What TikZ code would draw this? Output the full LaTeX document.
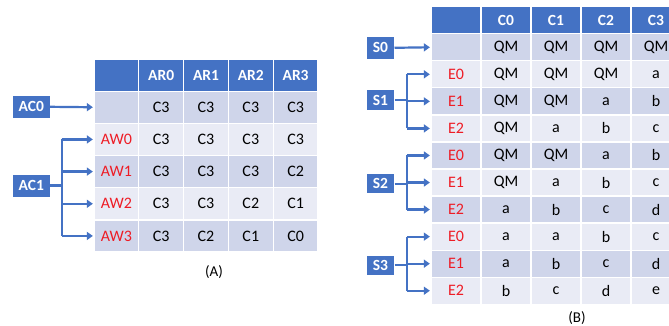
\documentclass[tikz,border=0pt]{standalone}
\usepackage{fontspec}
\setmainfont{Carlito}
\usetikzlibrary{arrows.meta}
\definecolor{hdr}{HTML}{4472C4}
\definecolor{rowdark}{HTML}{CFD5EA}
\definecolor{rowlight}{HTML}{E9EBF5}
\definecolor{lblred}{HTML}{EE1C25}
\tikzset{
  cellbase/.style={rectangle, draw=white, line width=1.3pt, inner sep=0pt, font=\fontsize{16}{18}\selectfont, text=black},
  hdrcell/.style={cellbase, fill=hdr, text=white, font=\fontsize{15.5}{18}\selectfont\bfseries},
  darkcell/.style={cellbase, fill=rowdark},
  lightcell/.style={cellbase, fill=rowlight},
  tagbox/.style={rectangle, fill=hdr, text=white, inner sep=0pt, font=\fontsize{15.5}{18}\selectfont\bfseries},
  conn/.style={draw=hdr, line width=2.2pt},
  arr/.style={conn, -{Triangle[length=6pt,width=8pt]}, shorten >=0.5pt},
  redtxt/.style={text=lblred},
  plaintxt/.style={},
  caption/.style={font=\fontsize{15}{18}\selectfont}
}
\newcommand{\pickrow}[1]{%
  \ifnum#1=0 \tikzset{rowsty/.style={hdrcell}}%
  \else\ifodd#1 \tikzset{rowsty/.style={darkcell}}%
  \else \tikzset{rowsty/.style={lightcell}}\fi\fi}
\newcommand{\pickcol}[1]{%
  \ifnum#1=0 \tikzset{colsty/.style={redtxt}}%
  \else \tikzset{colsty/.style={plaintxt}}\fi}
\begin{document}
\begin{tikzpicture}[x=1pt,y=-1pt]
\clip (0,0) rectangle (669,326);
\fill[white] (0,0) rectangle (669,326);
% ---------- Table A ----------
\def\Ax{94}\def\Ay{59}\def\Aw{44.8}\def\Ah{32.17}
\foreach \r/\a/\b/\c/\d/\e in {
  0/{}/AR0/AR1/AR2/AR3,
  1/{}/C3/C3/C3/C3,
  2/AW0/C3/C3/C3/C3,
  3/AW1/C3/C3/C3/C2,
  4/AW2/C3/C3/C2/C1,
  5/AW3/C3/C2/C1/C0}{
  \pickrow{\r}
  \foreach \t [count=\j from 0] in {\a,\b,\c,\d,\e}{
    \pickcol{\j}
    \node[rowsty, colsty, minimum width=\Aw pt, minimum height=\Ah pt]
      (A-\r-\j) at ({\Ax+\Aw*(\j+0.5)},{\Ay+\Ah*(\r+0.5)}) {\t};
  }
}
\node[tagbox, minimum width=37.3pt, minimum height=22pt] (ac0) at (31.3,106.8) {AC0};
\node[tagbox, minimum width=37.3pt, minimum height=22pt] (ac1) at (31.3,185.5) {AC1};
\draw[arr] (ac0.east) -- (A-1-0.west);
\coordinate (ja) at (61.7,185.5);
\draw[conn] (ac1.east) -- (ja);
\draw[conn] (ja |- A-2-0) -- (ja |- A-5-0);
\foreach \r in {2,3,4,5}{
  \draw[arr] (ja |- A-\r-0) -- (A-\r-0.west);
}
\node[caption] (capA) at (214,272.5) {(A)};
% ---------- Table B ----------
\def\Bx{431}\def\By{6.7}\def\Bw{50}\def\Bh{27.05}
\foreach \r/\a/\b/\c/\d/\e in {
  0/{}/C0/C1/C2/C3,
  1/{}/QM/QM/QM/QM,
  2/E0/QM/QM/QM/a,
  3/E1/QM/QM/a/b,
  4/E2/QM/a/b/c,
  5/E0/QM/QM/a/b,
  6/E1/QM/a/b/c,
  7/E2/a/b/c/d,
  8/E0/a/a/b/c,
  9/E1/a/b/c/d,
  10/E2/b/c/d/e}{
  \pickrow{\r}
  \foreach \t [count=\j from 0] in {\a,\b,\c,\d,\e}{
    \pickcol{\j}
    \node[rowsty, colsty, minimum width=\Bw pt, minimum height=\Bh pt]
      (B-\r-\j) at ({\Bx+\Bw*(\j+0.5)},{\By+\Bh*(\r+0.5)}) {\t};
  }
}
\node[tagbox, minimum width=27.6pt, minimum height=22pt] (s0) at (380.5,47.8) {S0};
\node[tagbox, minimum width=27.6pt, minimum height=20pt] (s1) at (380.5,100.3) {S1};
\node[tagbox, minimum width=27.6pt, minimum height=19pt] (s2) at (380.5,183.8) {S2};
\node[tagbox, minimum width=27.6pt, minimum height=19pt] (s3) at (380.5,265) {S3};
\draw[arr] (s0.east) -- (B-1-0.west);
\foreach \s/\ra/\rb/\rc in {s1/2/3/4, s2/5/6/7, s3/8/9/10}{
  \coordinate (j-\s) at (407.3,0 |- \s.east);
  \draw[conn] (\s.east) -- (j-\s);
  \draw[conn] (j-\s |- B-\ra-0) -- (j-\s |- B-\rc-0);
  \foreach \r in {\ra,\rb,\rc}{
    \draw[arr] (j-\s |- B-\r-0) -- (B-\r-0.west);
  }
}
\node[caption] (capB) at (577,318) {(B)};
\end{tikzpicture}
\end{document}
